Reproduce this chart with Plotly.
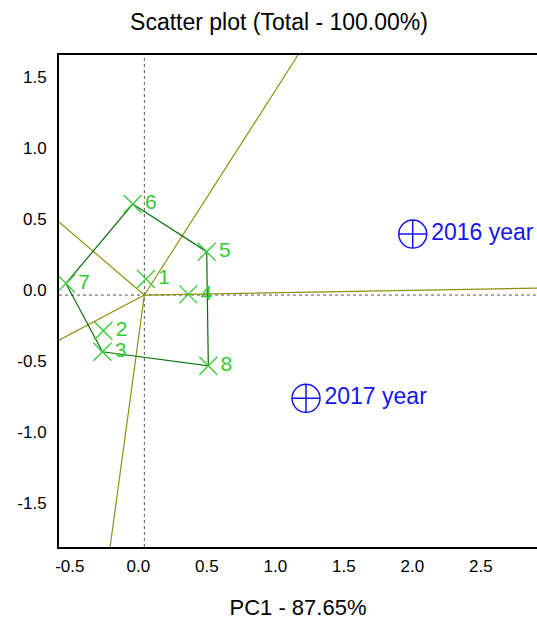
import plotly.graph_objects as go

# ---- data ----
obj_labels = ["1", "2", "3", "4", "5", "6", "7", "8"]
obj_x = [0.012, -0.299, -0.306, 0.321, 0.455, -0.085, -0.572, 0.467]
obj_y = [0.113, -0.252, -0.400, 0.005, 0.306, 0.642, 0.082, -0.499]

hull_order = ["7", "6", "5", "8", "3", "7"]

year_labels = ["2016 year", "2017 year"]
year_x = [1.959, 1.180]
year_y = [0.430, -0.729]

# loading rays (end points)
ray_x = [1.122, -0.623, -0.623, -0.250, 2.866]
ray_y = [1.694, 0.515, -0.318, -1.778, 0.049]

x_ticks = [-0.5, 0.0, 0.5, 1.0, 1.5, 2.0, 2.5]
x_ticktext = ["-0.5", "0.0", "0.5", "1.0", "1.5", "2.0", "2.5"]
y_ticks = [-1.5, -1.0, -0.5, 0.0, 0.5, 1.0, 1.5]
y_ticktext = ["-1.5", "-1.0", "-0.5", "0.0", "0.5", "1.0", "1.5"]

x_range = [-0.623, 2.866]
y_range = [-1.778, 1.694]

FONT = "Liberation Sans, Arial, sans-serif"
OLIVE = "#8f8f10"
DKGREEN = "#0a6e0a"
LTGREEN = "#33cc33"
BLUE = "#1515ee"

fig = go.Figure()

# rays from origin
for rx, ry in zip(ray_x, ray_y):
    fig.add_trace(go.Scatter(x=[0, rx], y=[0, ry], mode="lines",
                             line=dict(color=OLIVE, width=1.2),
                             hoverinfo="skip", showlegend=False))

# hull polygon
idx = {l: i for i, l in enumerate(obj_labels)}
fig.add_trace(go.Scatter(x=[obj_x[idx[l]] for l in hull_order],
                         y=[obj_y[idx[l]] for l in hull_order],
                         mode="lines", line=dict(color=DKGREEN, width=1.2),
                         hoverinfo="skip", showlegend=False))

# objects
fig.add_trace(go.Scatter(x=obj_x, y=obj_y, mode="markers+text",
                         text=obj_labels, textposition="middle right",
                         textfont=dict(family=FONT, size=21, color=LTGREEN),
                         marker=dict(symbol="x-thin-open", size=18,
                                     line=dict(color=LTGREEN, width=1.3),
                                     color=LTGREEN),
                         showlegend=False))

# years
fig.add_trace(go.Scatter(x=year_x, y=year_y, mode="markers+text",
                         text=year_labels, textposition="middle right",
                         textfont=dict(family=FONT, size=23, color=BLUE),
                         marker=dict(symbol="circle-cross-open", size=28,
                                     line=dict(color=BLUE, width=1.5),
                                     color=BLUE),
                         showlegend=False))

# dotted reference lines
fig.add_shape(type="line", xref="x", yref="paper", x0=0, x1=0, y0=0, y1=1,
              line=dict(color="#555555", width=1, dash="dot"), layer="below")
fig.add_shape(type="line", xref="paper", yref="y", x0=0, x1=1, y0=0, y1=0,
              line=dict(color="#555555", width=1, dash="dot"), layer="below")

fig.update_layout(
    width=537, height=621,
    margin=dict(l=59, r=0, t=55, b=74),
    paper_bgcolor="white", plot_bgcolor="white",
    font=dict(family=FONT, color="black"),
    title=dict(text="Scatter plot (Total - 100.00%)", x=279 / 537, xanchor="center",
               y=1 - 22 / 621, yanchor="middle", font=dict(size=23, family=FONT)),
    xaxis=dict(range=x_range, tickvals=x_ticks, ticktext=x_ticktext,
               showgrid=False, zeroline=False, showline=True, linecolor="black",
               linewidth=2, mirror=True, ticks="", ticklabelstandoff=3,
               ticklabelshift=-6,
               tickfont=dict(size=17),
               title=dict(text="PC1 - 87.65%", font=dict(size=22), standoff=24)),
    yaxis=dict(range=y_range, tickvals=y_ticks, ticktext=y_ticktext,
               showgrid=False, zeroline=False, showline=True, linecolor="black",
               linewidth=2, ticks="", ticklabelstandoff=7, ticklabelshift=-5,
               tickfont=dict(size=17)),
)

fig.write_html("out.html")
